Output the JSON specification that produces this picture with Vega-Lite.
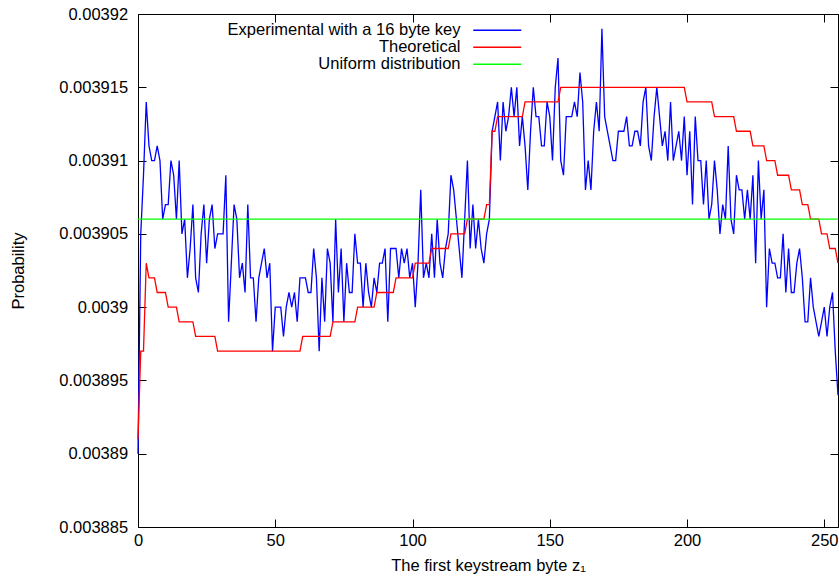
{
"$schema": "https://vega.github.io/schema/vega-lite/v6.json",
"width": 700, "height": 513,
"autosize": "none",
"padding": {"left": 138, "top": 14, "right": 1, "bottom": 54},
"background": "white",
"config": {
 "font": "Liberation Sans",
 "view": {"stroke": "black", "strokeWidth": 1},
 "axis": {"domain": false, "grid": false, "tickColor": "black", "tickSize": -8, "tickWidth": 1, "labelColor": "black", "labelFontSize": 16.5, "titleColor": "black", "titleFontSize": 16.5, "titleFontWeight": "normal", "labelFlush": false}
},
"data": {"values": [
{"z":0,"e":0.00389,"t":0.003891,"u":0.003906},
{"z":1,"e":0.003905,"t":0.003897,"u":0.003906},
{"z":2,"e":0.003909,"t":0.003897,"u":0.003906},
{"z":3,"e":0.003914,"t":0.003903,"u":0.003906},
{"z":4,"e":0.003911,"t":0.003902,"u":0.003906},
{"z":5,"e":0.00391,"t":0.003902,"u":0.003906},
{"z":6,"e":0.00391,"t":0.003902,"u":0.003906},
{"z":7,"e":0.003911,"t":0.003901,"u":0.003906},
{"z":8,"e":0.00391,"t":0.003901,"u":0.003906},
{"z":9,"e":0.003906,"t":0.003901,"u":0.003906},
{"z":10,"e":0.003907,"t":0.003901,"u":0.003906},
{"z":11,"e":0.003907,"t":0.0039,"u":0.003906},
{"z":12,"e":0.00391,"t":0.0039,"u":0.003906},
{"z":13,"e":0.003909,"t":0.0039,"u":0.003906},
{"z":14,"e":0.003906,"t":0.0039,"u":0.003906},
{"z":15,"e":0.00391,"t":0.003899,"u":0.003906},
{"z":16,"e":0.003905,"t":0.003899,"u":0.003906},
{"z":17,"e":0.003906,"t":0.003899,"u":0.003906},
{"z":18,"e":0.003902,"t":0.003899,"u":0.003906},
{"z":19,"e":0.003904,"t":0.003899,"u":0.003906},
{"z":20,"e":0.003907,"t":0.003899,"u":0.003906},
{"z":21,"e":0.003902,"t":0.003898,"u":0.003906},
{"z":22,"e":0.003901,"t":0.003898,"u":0.003906},
{"z":23,"e":0.003905,"t":0.003898,"u":0.003906},
{"z":24,"e":0.003907,"t":0.003898,"u":0.003906},
{"z":25,"e":0.003903,"t":0.003898,"u":0.003906},
{"z":26,"e":0.003906,"t":0.003898,"u":0.003906},
{"z":27,"e":0.003907,"t":0.003898,"u":0.003906},
{"z":28,"e":0.003904,"t":0.003898,"u":0.003906},
{"z":29,"e":0.003905,"t":0.003897,"u":0.003906},
{"z":30,"e":0.003905,"t":0.003897,"u":0.003906},
{"z":31,"e":0.003905,"t":0.003897,"u":0.003906},
{"z":32,"e":0.003909,"t":0.003897,"u":0.003906},
{"z":33,"e":0.003899,"t":0.003897,"u":0.003906},
{"z":34,"e":0.003903,"t":0.003897,"u":0.003906},
{"z":35,"e":0.003907,"t":0.003897,"u":0.003906},
{"z":36,"e":0.003906,"t":0.003897,"u":0.003906},
{"z":37,"e":0.003902,"t":0.003897,"u":0.003906},
{"z":38,"e":0.003903,"t":0.003897,"u":0.003906},
{"z":39,"e":0.003901,"t":0.003897,"u":0.003906},
{"z":40,"e":0.003907,"t":0.003897,"u":0.003906},
{"z":41,"e":0.003902,"t":0.003897,"u":0.003906},
{"z":42,"e":0.003902,"t":0.003897,"u":0.003906},
{"z":43,"e":0.003899,"t":0.003897,"u":0.003906},
{"z":44,"e":0.003902,"t":0.003897,"u":0.003906},
{"z":45,"e":0.003903,"t":0.003897,"u":0.003906},
{"z":46,"e":0.003904,"t":0.003897,"u":0.003906},
{"z":47,"e":0.003902,"t":0.003897,"u":0.003906},
{"z":48,"e":0.003903,"t":0.003897,"u":0.003906},
{"z":49,"e":0.003897,"t":0.003897,"u":0.003906},
{"z":50,"e":0.0039,"t":0.003897,"u":0.003906},
{"z":51,"e":0.0039,"t":0.003897,"u":0.003906},
{"z":52,"e":0.0039,"t":0.003897,"u":0.003906},
{"z":53,"e":0.003898,"t":0.003897,"u":0.003906},
{"z":54,"e":0.0039,"t":0.003897,"u":0.003906},
{"z":55,"e":0.003901,"t":0.003897,"u":0.003906},
{"z":56,"e":0.0039,"t":0.003897,"u":0.003906},
{"z":57,"e":0.003901,"t":0.003897,"u":0.003906},
{"z":58,"e":0.003899,"t":0.003897,"u":0.003906},
{"z":59,"e":0.003902,"t":0.003897,"u":0.003906},
{"z":60,"e":0.003902,"t":0.003898,"u":0.003906},
{"z":61,"e":0.003902,"t":0.003898,"u":0.003906},
{"z":62,"e":0.003901,"t":0.003898,"u":0.003906},
{"z":63,"e":0.003901,"t":0.003898,"u":0.003906},
{"z":64,"e":0.003904,"t":0.003898,"u":0.003906},
{"z":65,"e":0.003902,"t":0.003898,"u":0.003906},
{"z":66,"e":0.003897,"t":0.003898,"u":0.003906},
{"z":67,"e":0.003902,"t":0.003898,"u":0.003906},
{"z":68,"e":0.003899,"t":0.003898,"u":0.003906},
{"z":69,"e":0.003904,"t":0.003898,"u":0.003906},
{"z":70,"e":0.003903,"t":0.003898,"u":0.003906},
{"z":71,"e":0.003899,"t":0.003899,"u":0.003906},
{"z":72,"e":0.003906,"t":0.003899,"u":0.003906},
{"z":73,"e":0.003901,"t":0.003899,"u":0.003906},
{"z":74,"e":0.003904,"t":0.003899,"u":0.003906},
{"z":75,"e":0.003899,"t":0.003899,"u":0.003906},
{"z":76,"e":0.003903,"t":0.003899,"u":0.003906},
{"z":77,"e":0.003901,"t":0.003899,"u":0.003906},
{"z":78,"e":0.003901,"t":0.003899,"u":0.003906},
{"z":79,"e":0.003905,"t":0.003899,"u":0.003906},
{"z":80,"e":0.003903,"t":0.0039,"u":0.003906},
{"z":81,"e":0.003903,"t":0.0039,"u":0.003906},
{"z":82,"e":0.0039,"t":0.0039,"u":0.003906},
{"z":83,"e":0.003903,"t":0.0039,"u":0.003906},
{"z":84,"e":0.003901,"t":0.0039,"u":0.003906},
{"z":85,"e":0.0039,"t":0.0039,"u":0.003906},
{"z":86,"e":0.003902,"t":0.0039,"u":0.003906},
{"z":87,"e":0.003901,"t":0.003901,"u":0.003906},
{"z":88,"e":0.003903,"t":0.003901,"u":0.003906},
{"z":89,"e":0.003903,"t":0.003901,"u":0.003906},
{"z":90,"e":0.003904,"t":0.003901,"u":0.003906},
{"z":91,"e":0.003899,"t":0.003901,"u":0.003906},
{"z":92,"e":0.003904,"t":0.003901,"u":0.003906},
{"z":93,"e":0.003904,"t":0.003901,"u":0.003906},
{"z":94,"e":0.003904,"t":0.003902,"u":0.003906},
{"z":95,"e":0.003902,"t":0.003902,"u":0.003906},
{"z":96,"e":0.003904,"t":0.003902,"u":0.003906},
{"z":97,"e":0.003903,"t":0.003902,"u":0.003906},
{"z":98,"e":0.003904,"t":0.003902,"u":0.003906},
{"z":99,"e":0.003902,"t":0.003902,"u":0.003906},
{"z":100,"e":0.003903,"t":0.003902,"u":0.003906},
{"z":101,"e":0.0039,"t":0.003903,"u":0.003906},
{"z":102,"e":0.003903,"t":0.003903,"u":0.003906},
{"z":103,"e":0.003908,"t":0.003903,"u":0.003906},
{"z":104,"e":0.003902,"t":0.003903,"u":0.003906},
{"z":105,"e":0.003903,"t":0.003903,"u":0.003906},
{"z":106,"e":0.003902,"t":0.003903,"u":0.003906},
{"z":107,"e":0.003905,"t":0.003904,"u":0.003906},
{"z":108,"e":0.003902,"t":0.003904,"u":0.003906},
{"z":109,"e":0.003906,"t":0.003904,"u":0.003906},
{"z":110,"e":0.003903,"t":0.003904,"u":0.003906},
{"z":111,"e":0.003902,"t":0.003904,"u":0.003906},
{"z":112,"e":0.003904,"t":0.003904,"u":0.003906},
{"z":113,"e":0.003905,"t":0.003904,"u":0.003906},
{"z":114,"e":0.003909,"t":0.003905,"u":0.003906},
{"z":115,"e":0.003908,"t":0.003905,"u":0.003906},
{"z":116,"e":0.003906,"t":0.003905,"u":0.003906},
{"z":117,"e":0.003904,"t":0.003905,"u":0.003906},
{"z":118,"e":0.003902,"t":0.003905,"u":0.003906},
{"z":119,"e":0.003906,"t":0.003905,"u":0.003906},
{"z":120,"e":0.00391,"t":0.003906,"u":0.003906},
{"z":121,"e":0.003904,"t":0.003906,"u":0.003906},
{"z":122,"e":0.003907,"t":0.003906,"u":0.003906},
{"z":123,"e":0.003904,"t":0.003906,"u":0.003906},
{"z":124,"e":0.003906,"t":0.003906,"u":0.003906},
{"z":125,"e":0.003904,"t":0.003906,"u":0.003906},
{"z":126,"e":0.003903,"t":0.003906,"u":0.003906},
{"z":127,"e":0.003905,"t":0.003907,"u":0.003906},
{"z":128,"e":0.003906,"t":0.003907,"u":0.003906},
{"z":129,"e":0.003912,"t":0.003912,"u":0.003906},
{"z":130,"e":0.003913,"t":0.003912,"u":0.003906},
{"z":131,"e":0.003914,"t":0.003913,"u":0.003906},
{"z":132,"e":0.00391,"t":0.003913,"u":0.003906},
{"z":133,"e":0.003914,"t":0.003913,"u":0.003906},
{"z":134,"e":0.003912,"t":0.003913,"u":0.003906},
{"z":135,"e":0.003913,"t":0.003913,"u":0.003906},
{"z":136,"e":0.003915,"t":0.003913,"u":0.003906},
{"z":137,"e":0.003913,"t":0.003913,"u":0.003906},
{"z":138,"e":0.003915,"t":0.003913,"u":0.003906},
{"z":139,"e":0.003911,"t":0.003913,"u":0.003906},
{"z":140,"e":0.003913,"t":0.003913,"u":0.003906},
{"z":141,"e":0.003911,"t":0.003914,"u":0.003906},
{"z":142,"e":0.003908,"t":0.003914,"u":0.003906},
{"z":143,"e":0.003912,"t":0.003914,"u":0.003906},
{"z":144,"e":0.003915,"t":0.003914,"u":0.003906},
{"z":145,"e":0.003913,"t":0.003914,"u":0.003906},
{"z":146,"e":0.003913,"t":0.003914,"u":0.003906},
{"z":147,"e":0.003911,"t":0.003914,"u":0.003906},
{"z":148,"e":0.003911,"t":0.003914,"u":0.003906},
{"z":149,"e":0.003914,"t":0.003914,"u":0.003906},
{"z":150,"e":0.003913,"t":0.003914,"u":0.003906},
{"z":151,"e":0.00391,"t":0.003914,"u":0.003906},
{"z":152,"e":0.003915,"t":0.003914,"u":0.003906},
{"z":153,"e":0.003917,"t":0.003914,"u":0.003906},
{"z":154,"e":0.00391,"t":0.003915,"u":0.003906},
{"z":155,"e":0.003909,"t":0.003915,"u":0.003906},
{"z":156,"e":0.003913,"t":0.003915,"u":0.003906},
{"z":157,"e":0.003913,"t":0.003915,"u":0.003906},
{"z":158,"e":0.003913,"t":0.003915,"u":0.003906},
{"z":159,"e":0.003914,"t":0.003915,"u":0.003906},
{"z":160,"e":0.003913,"t":0.003915,"u":0.003906},
{"z":161,"e":0.003916,"t":0.003915,"u":0.003906},
{"z":162,"e":0.003914,"t":0.003915,"u":0.003906},
{"z":163,"e":0.003908,"t":0.003915,"u":0.003906},
{"z":164,"e":0.00391,"t":0.003915,"u":0.003906},
{"z":165,"e":0.003908,"t":0.003915,"u":0.003906},
{"z":166,"e":0.003912,"t":0.003915,"u":0.003906},
{"z":167,"e":0.003914,"t":0.003915,"u":0.003906},
{"z":168,"e":0.003912,"t":0.003915,"u":0.003906},
{"z":169,"e":0.003919,"t":0.003915,"u":0.003906},
{"z":170,"e":0.003913,"t":0.003915,"u":0.003906},
{"z":171,"e":0.003912,"t":0.003915,"u":0.003906},
{"z":172,"e":0.003911,"t":0.003915,"u":0.003906},
{"z":173,"e":0.00391,"t":0.003915,"u":0.003906},
{"z":174,"e":0.00391,"t":0.003915,"u":0.003906},
{"z":175,"e":0.003912,"t":0.003915,"u":0.003906},
{"z":176,"e":0.003912,"t":0.003915,"u":0.003906},
{"z":177,"e":0.003912,"t":0.003915,"u":0.003906},
{"z":178,"e":0.003913,"t":0.003915,"u":0.003906},
{"z":179,"e":0.003911,"t":0.003915,"u":0.003906},
{"z":180,"e":0.003911,"t":0.003915,"u":0.003906},
{"z":181,"e":0.003912,"t":0.003915,"u":0.003906},
{"z":182,"e":0.003912,"t":0.003915,"u":0.003906},
{"z":183,"e":0.003911,"t":0.003915,"u":0.003906},
{"z":184,"e":0.003914,"t":0.003915,"u":0.003906},
{"z":185,"e":0.003915,"t":0.003915,"u":0.003906},
{"z":186,"e":0.003911,"t":0.003915,"u":0.003906},
{"z":187,"e":0.00391,"t":0.003915,"u":0.003906},
{"z":188,"e":0.003913,"t":0.003915,"u":0.003906},
{"z":189,"e":0.003915,"t":0.003915,"u":0.003906},
{"z":190,"e":0.003913,"t":0.003915,"u":0.003906},
{"z":191,"e":0.003911,"t":0.003915,"u":0.003906},
{"z":192,"e":0.003912,"t":0.003915,"u":0.003906},
{"z":193,"e":0.00391,"t":0.003915,"u":0.003906},
{"z":194,"e":0.003914,"t":0.003915,"u":0.003906},
{"z":195,"e":0.00391,"t":0.003915,"u":0.003906},
{"z":196,"e":0.003911,"t":0.003915,"u":0.003906},
{"z":197,"e":0.003912,"t":0.003915,"u":0.003906},
{"z":198,"e":0.00391,"t":0.003915,"u":0.003906},
{"z":199,"e":0.003913,"t":0.003915,"u":0.003906},
{"z":200,"e":0.003909,"t":0.003914,"u":0.003906},
{"z":201,"e":0.003912,"t":0.003914,"u":0.003906},
{"z":202,"e":0.003907,"t":0.003914,"u":0.003906},
{"z":203,"e":0.003913,"t":0.003914,"u":0.003906},
{"z":204,"e":0.00391,"t":0.003914,"u":0.003906},
{"z":205,"e":0.00391,"t":0.003914,"u":0.003906},
{"z":206,"e":0.003907,"t":0.003914,"u":0.003906},
{"z":207,"e":0.00391,"t":0.003914,"u":0.003906},
{"z":208,"e":0.003906,"t":0.003914,"u":0.003906},
{"z":209,"e":0.003907,"t":0.003914,"u":0.003906},
{"z":210,"e":0.00391,"t":0.003913,"u":0.003906},
{"z":211,"e":0.003908,"t":0.003913,"u":0.003906},
{"z":212,"e":0.003905,"t":0.003913,"u":0.003906},
{"z":213,"e":0.003907,"t":0.003913,"u":0.003906},
{"z":214,"e":0.003906,"t":0.003913,"u":0.003906},
{"z":215,"e":0.003911,"t":0.003913,"u":0.003906},
{"z":216,"e":0.003906,"t":0.003913,"u":0.003906},
{"z":217,"e":0.003905,"t":0.003913,"u":0.003906},
{"z":218,"e":0.003909,"t":0.003912,"u":0.003906},
{"z":219,"e":0.003908,"t":0.003912,"u":0.003906},
{"z":220,"e":0.003908,"t":0.003912,"u":0.003906},
{"z":221,"e":0.003906,"t":0.003912,"u":0.003906},
{"z":222,"e":0.003908,"t":0.003912,"u":0.003906},
{"z":223,"e":0.003906,"t":0.003912,"u":0.003906},
{"z":224,"e":0.003909,"t":0.003911,"u":0.003906},
{"z":225,"e":0.003903,"t":0.003911,"u":0.003906},
{"z":226,"e":0.00391,"t":0.003911,"u":0.003906},
{"z":227,"e":0.003906,"t":0.003911,"u":0.003906},
{"z":228,"e":0.003908,"t":0.003911,"u":0.003906},
{"z":229,"e":0.0039,"t":0.00391,"u":0.003906},
{"z":230,"e":0.003904,"t":0.00391,"u":0.003906},
{"z":231,"e":0.003903,"t":0.00391,"u":0.003906},
{"z":232,"e":0.003903,"t":0.00391,"u":0.003906},
{"z":233,"e":0.003902,"t":0.003909,"u":0.003906},
{"z":234,"e":0.003902,"t":0.003909,"u":0.003906},
{"z":235,"e":0.003905,"t":0.003909,"u":0.003906},
{"z":236,"e":0.003901,"t":0.003909,"u":0.003906},
{"z":237,"e":0.003904,"t":0.003909,"u":0.003906},
{"z":238,"e":0.003901,"t":0.003908,"u":0.003906},
{"z":239,"e":0.003901,"t":0.003908,"u":0.003906},
{"z":240,"e":0.003903,"t":0.003908,"u":0.003906},
{"z":241,"e":0.003904,"t":0.003908,"u":0.003906},
{"z":242,"e":0.003902,"t":0.003907,"u":0.003906},
{"z":243,"e":0.003899,"t":0.003907,"u":0.003906},
{"z":244,"e":0.003899,"t":0.003907,"u":0.003906},
{"z":245,"e":0.003902,"t":0.003906,"u":0.003906},
{"z":246,"e":0.0039,"t":0.003906,"u":0.003906},
{"z":247,"e":0.003899,"t":0.003906,"u":0.003906},
{"z":248,"e":0.003898,"t":0.003906,"u":0.003906},
{"z":249,"e":0.003899,"t":0.003905,"u":0.003906},
{"z":250,"e":0.0039,"t":0.003905,"u":0.003906},
{"z":251,"e":0.003898,"t":0.003905,"u":0.003906},
{"z":252,"e":0.0039,"t":0.003904,"u":0.003906},
{"z":253,"e":0.003901,"t":0.003904,"u":0.003906},
{"z":254,"e":0.003897,"t":0.003904,"u":0.003906},
{"z":255,"e":0.003894,"t":0.003903,"u":0.003906}
]},
"transform": [{"fold": ["e", "t", "u"], "as": ["s", "p"]}],
"layer": [
 {
  "mark": {"type": "line", "strokeWidth": 1.3},
  "encoding": {
   "x": {"field": "z", "type": "quantitative", "scale": {"domain": [0, 255], "nice": false, "zero": false},
         "axis": {"values": [0, 50, 100, 150, 200, 250], "title": "The first keystream byte z₁", "labelPadding": 13, "titlePadding": 9}},
   "y": {"field": "p", "type": "quantitative", "scale": {"domain": [0.003885, 0.00392], "nice": false, "zero": false},
         "axis": {"values": [0.003885, 0.00389, 0.003895, 0.0039, 0.003905, 0.00391, 0.003915, 0.00392], "format": "~g", "title": "Probability", "labelPadding": 18.4, "titlePadding": 32}},
   "color": {"field": "s", "type": "nominal", "scale": {"domain": ["e", "t", "u"], "range": ["#0000ff", "#ff0000", "#00ff00"]},
     "legend": {"orient": "none", "legendX": 351, "legendY": 8, "title": null, "padding": 0,
       "symbolType": "M-4,0H4", "symbolSize": 144, "symbolStrokeWidth": 1.5,
       "labelAlign": "right", "labelOffset": -45, "labelFontSize": 16.5, "labelColor": "black", "labelLimit": 400, "rowPadding": -1,
       "labelExpr": "datum.label == 'e' ? 'Experimental with a 16 byte key' : datum.label == 't' ? 'Theoretical' : 'Uniform distribution'"}}
  }
 },
 {
  "mark": {"type": "point", "opacity": 0},
  "encoding": {
   "x": {"field": "z", "type": "quantitative", "scale": {"domain": [0, 255], "nice": false, "zero": false},
         "axis": {"orient": "top", "values": [0, 50, 100, 150, 200, 250], "labels": false, "title": null}},
   "y": {"field": "p", "type": "quantitative", "scale": {"domain": [0.003885, 0.00392], "nice": false, "zero": false},
         "axis": {"orient": "right", "values": [0.003885, 0.00389, 0.003895, 0.0039, 0.003905, 0.00391, 0.003915, 0.00392], "labels": false, "title": null}}
  }
 }
],
"resolve": {"scale": {"x": "independent", "y": "independent"}, "axis": {"x": "independent", "y": "independent"}}
}
